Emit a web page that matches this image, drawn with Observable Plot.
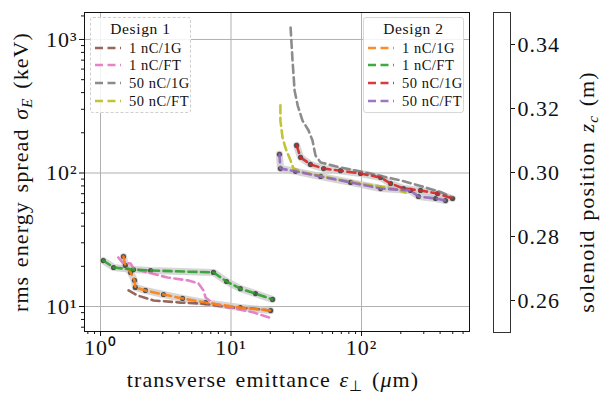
<!DOCTYPE html>
<html><head><meta charset="utf-8">
<script src="https://cdn.jsdelivr.net/npm/d3@7"></script>
<script src="https://cdn.jsdelivr.net/npm/@observablehq/plot@0.6"></script>
<style>
body{margin:0;background:#fff;}
#wrap{position:relative;width:602px;height:395px;font-family:"Liberation Serif",serif;color:#111;overflow:hidden;}
#wrap svg{position:absolute;top:0;}
.lab{position:absolute;white-space:nowrap;transform:translate(-50%,-50%);font-size:22px;letter-spacing:1.1px;word-spacing:2px;}
.rot{transform:translate(-50%,-50%) rotate(-90deg);}
.leg{position:absolute;background:rgba(255,255,255,0.85);border-radius:3px;}
.leg .t{position:absolute;left:0;right:0;text-align:center;font-size:15.5px;letter-spacing:0.6px;transform:translateY(-50%);}
.leg .r{position:absolute;font-size:14.5px;letter-spacing:0.5px;white-space:nowrap;transform:translateY(-50%);}
.leg svg{position:absolute;}
sub{font-size:70%;vertical-align:-0.25em;}
</style></head><body><div id="wrap"></div>
<script>
// Design 1
const d1_1nC_1G_x = [1.64,1.92,2.55,4.10,6.15,9.91,14.9,20.1];
const d1_1nC_1G_y = [13.2,12.1,11.1,10.7,10.5,9.83,9.66,9.33];
const d1_1nC_FT_x = [1.37,1.47,1.70,1.79,2.29,3.26,4.64,5.63,6.15,6.38,7.34,9.91,14.9,20.8];
const d1_1nC_FT_y = [23.3,21.4,21.0,19.3,18.0,16.5,15.7,14.9,13.2,11.7,10.5,9.83,9.02,8.13];
const d1_50nC_1G_x = [28.6,29.6,30.7,32.4,35.3,39.3,42.1,44.4,48.6,69.0,117,199,283,403,490];
const d1_50nC_1G_y = [1230,697,415,321,247,208,175,135,120,110,99,88,80,72,66];
const d1_50nC_FT_x = [23.9,23.9,24.8,26.2,28.6,30.1,35.9,54.9,98.2,176,217];
const d1_50nC_FT_y = [321,247,185,153,124,108,101,92.5,83.4,76.5,71.4];
// Design 2
const d2_1nC_1G_x = [1.50,1.55,1.70,1.82,1.85,2.21,3.04,4.25,6.38,11.8,20.1];
const d2_1nC_1G_y = [23.7,20.3,18.0,15.7,13.9,13.2,12.3,11.5,10.7,9.83,9.33];
const d2_1nC_FT_x = [1.05,1.26,1.79,2.42,7.34,9.24,11.8,15.4,20.8];
const d2_1nC_FT_y = [22.1,19.6,18.9,18.6,18.0,15.4,13.6,12.5,11.3];
const d2_50nC_1G_x = [31.8,34.1,40.6,51.2,69.0,98.2,140,167,210,283,382,498];
const d2_50nC_1G_y = [161,131,116,108,104,99.1,92.5,83.4,76.5,74.0,70.2,64.4];
const d2_50nC_FT_x = [23.5,23.9,31.2,48.6,82.4,140,237,273,369,440];
const d2_50nC_FT_y = [138,108,103,94.2,85.0,76.5,74.0,66.7,64.4,62.2];

const legendLabels = ["1 nC/1G","1 nC/FT","50 nC/1G","50 nC/FT"];
const design1Colors = ["#8c564b","#e377c2","#7f7f7f","#bcbd22"];
const design2Colors = ["#ff7f0e","#2ca02c","#d62728","#9467bd"];
const xMajor = [1,10,100];
const yMajor = [10,100,1000];
const cbTicks = [0.26,0.28,0.30,0.32,0.34];

const series = [
  {design:1, label:legendLabels[0], color:design1Colors[0], x:d1_1nC_1G_x, y:d1_1nC_1G_y, mk:false},
  {design:1, label:legendLabels[1], color:design1Colors[1], x:d1_1nC_FT_x, y:d1_1nC_FT_y, mk:false},
  {design:1, label:legendLabels[2], color:design1Colors[2], x:d1_50nC_1G_x, y:d1_50nC_1G_y, mk:false},
  {design:1, label:legendLabels[3], color:design1Colors[3], x:d1_50nC_FT_x, y:d1_50nC_FT_y, mk:false},
  {design:2, label:legendLabels[0], color:design2Colors[0], x:d2_1nC_1G_x, y:d2_1nC_1G_y, mk:true},
  {design:2, label:legendLabels[1], color:design2Colors[1], x:d2_1nC_FT_x, y:d2_1nC_FT_y, mk:true},
  {design:2, label:legendLabels[2], color:design2Colors[2], x:d2_50nC_1G_x, y:d2_50nC_1G_y, mk:true},
  {design:2, label:legendLabels[3], color:design2Colors[3], x:d2_50nC_FT_x, y:d2_50nC_FT_y, mk:true}
];
const rows = series.flatMap((s,i)=>s.x.map((x,j)=>({id:i, x, y:s.y[j], color:s.color, mk:s.mk})));
const mkRows = rows.filter(r=>r.mk);

const minorX = [0.8,0.9,2,3,4,5,6,7,8,9,20,30,40,50,60,70,80,90,200,300,400,500,600];
const minorY = [7,8,9,20,30,40,50,60,70,80,90,200,300,400,500,600,700,800,900,1500];
const sup = {"0":"\u2070","1":"\u00b9","2":"\u00b2","3":"\u00b3"};
const fmt = d => "10" + sup[String(Math.round(Math.log10(d)))];

const main = Plot.plot({
  width:480, height:395,
  marginLeft:84, marginRight:11, marginTop:12, marginBottom:64,
  style:{fontFamily:"Liberation Serif, serif", fontSize:"22px", background:"transparent", color:"#111"},
  x:{type:"log", domain:[0.754,672], axis:null},
  y:{type:"log", domain:[6.5,1592], axis:null},
  marks:[
    Plot.gridX(xMajor, {stroke:"#b0b0b0", strokeOpacity:1, strokeWidth:1}),
    Plot.gridY(yMajor, {stroke:"#b0b0b0", strokeOpacity:1, strokeWidth:1}),
    Plot.line(mkRows, {x:"x", y:"y", z:"id", stroke:"#c8c8c8", strokeWidth:7, strokeOpacity:0.75}),
    Plot.dot(mkRows, {x:"x", y:"y", r:2.6, fill:"#505050", stroke:"none"}),
    Plot.line(rows, {x:"x", y:"y", z:"id", stroke:"color", strokeWidth:2.6, strokeOpacity:0.9, strokeDasharray:"8,4.5", curve:"linear"}),
    Plot.axisX(xMajor, {tickSize:5, tickPadding:3, tickFormat:fmt, label:null}),
    Plot.axisX(minorX, {tickSize:3, tickFormat:()=>"", label:null}),
    Plot.axisY(yMajor, {tickSize:5, tickPadding:2, tickFormat:fmt, label:null}),
    Plot.axisY(minorY, {tickSize:3, tickFormat:()=>"", label:null}),
    Plot.frame({stroke:"#111", strokeWidth:1})
  ]
});
main.style.left = "0px";

const cb = Plot.plot({
  width:122, height:395,
  marginLeft:13, marginRight:92, marginTop:12, marginBottom:63,
  style:{fontFamily:"Liberation Serif, serif", fontSize:"22px", background:"transparent", color:"#111"},
  x:{axis:null, domain:[0,1]},
  y:{domain:[0.25,0.35], axis:null},
  marks:[
    Plot.frame({stroke:"#333", strokeWidth:1, fill:"#fff"}),
    Plot.axisY(cbTicks, {anchor:"right", tickSize:4, tickPadding:3, tickFormat:d3.format(".2f"), label:null})
  ]
});
cb.style.left = "480px";

const wrap = document.getElementById("wrap");
wrap.appendChild(main);
wrap.appendChild(cb);
// slightly widen tick labels to mimic the wider Computer Modern face
wrap.querySelectorAll("svg [aria-label$='tick label'] text").forEach(t=>t.setAttribute("letter-spacing","1"));

function addLabel(html, x, y, rot){
  const d = document.createElement("div");
  d.className = "lab" + (rot ? " rot" : "");
  d.style.left = x+"px"; d.style.top = y+"px";
  d.innerHTML = html;
  wrap.appendChild(d);
}
addLabel("rms energy spread <i>σ</i><sub><i>E</i></sub> (keV)", 22, 172, true);
addLabel("transverse emittance <i>ε</i><sub>⊥</sub> (<i>μ</i>m)", 273, 381, false);
addLabel("solenoid position <i>z</i><sub><i>c</i></sub> (m)", 588, 192, true);

function addLegend(title, colors, left, top, w, h, dashed){
  const d = document.createElement("div");
  d.className = "leg";
  d.style.left = left+"px"; d.style.top = top+"px";
  d.style.width = w+"px"; d.style.height = h+"px";
  d.style.border = dashed ? "1.2px dashed #cfcfcf" : "1.2px solid #d8d8d8";
  let html = `<div class="t" style="top:${28-top}px">${title}</div>`;
  const ys = [47,64,82,100];
  legendLabels.forEach((lab,i)=>{
    const yy = ys[i]-top;
    html += `<svg width="26" height="6" style="left:4px;top:${yy-3}px"><line x1="0" y1="3" x2="26" y2="3" stroke="${colors[i]}" stroke-width="2.6" stroke-opacity="0.9" stroke-dasharray="8,4.5"/></svg>`;
    html += `<div class="r" style="left:38px;top:${yy}px">${lab}</div>`;
  });
  d.innerHTML = html;
  wrap.appendChild(d);
}
addLegend("Design 1", design1Colors, 90, 17, 99, 94, true);
addLegend("Design 2", design2Colors, 363, 17, 99, 94, false);
</script></body></html>
